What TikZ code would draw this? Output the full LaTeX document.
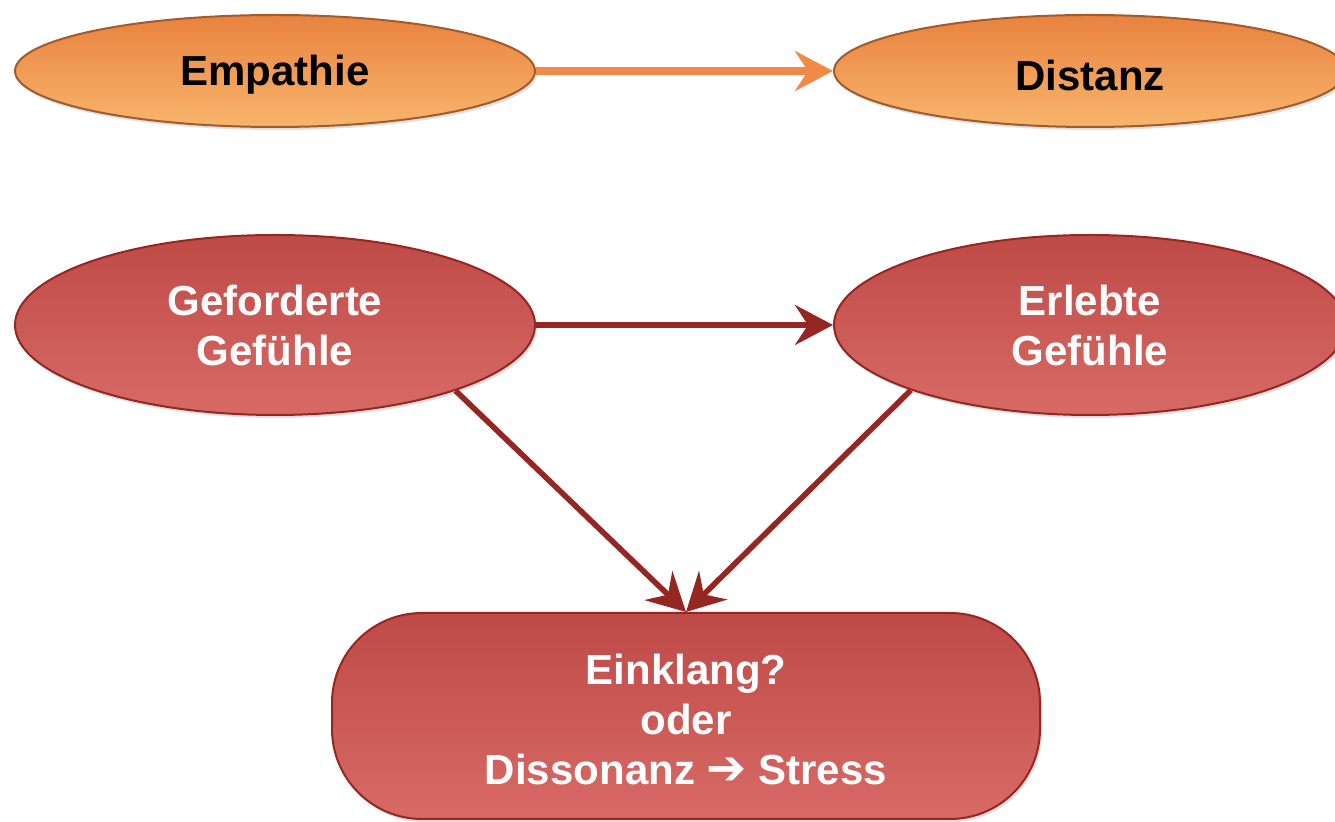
\documentclass[tikz,border=0pt]{standalone}
\usepackage{fontspec}
\setmainfont{Liberation Sans}
\newfontfamily\symfont{DejaVu Sans}
\usepackage{xcolor}
\usepackage{tikz}
\usetikzlibrary{positioning, arrows.meta, shapes.geometric, shadows}

\definecolor{orangefill}{HTML}{F39A55}
\definecolor{orangetop}{HTML}{E8823F}
\definecolor{orangebot}{HTML}{F8B56C}
\definecolor{orangeline}{HTML}{F08A46}
\definecolor{redfill}{HTML}{CD5957}
\definecolor{redtop}{HTML}{BE4A47}
\definecolor{redbot}{HTML}{D86A66}
\definecolor{redline}{HTML}{962621}

\newcommand{\lowered}[2]{\raisebox{-#1}[\height][\depth]{#2}}

\begin{document}
\begin{tikzpicture}[
  x=0.5pt, y=-0.5pt,
  oval/.style={ellipse, minimum width=260pt, inner sep=0pt, align=center, font=\bfseries\fontsize{21}{25}\selectfont,
    drop shadow={opacity=0.25, shadow xshift=1pt, shadow yshift=-1.5pt}},
  orangeoval/.style={oval, minimum height=56pt, draw=orangetop!70!black, line width=1pt,
    top color=orangetop, middle color=orangefill, bottom color=orangebot, text=black},
  redoval/.style={oval, minimum height=90pt, draw=redline, line width=1pt,
    top color=redtop, middle color=redfill, bottom color=redbot, text=white},
  pill/.style={rounded corners=45pt, draw=redline, line width=1pt, minimum width=354pt, minimum height=103pt,
    top color=redtop, middle color=redfill, bottom color=redbot, text=white, align=center,
    font=\bfseries\fontsize{21}{25}\selectfont,
    drop shadow={opacity=0.25, shadow xshift=1pt, shadow yshift=-1.5pt}},
  tip/.style={-{Stealth[length=19pt, width=20pt, inset=6.5pt]}},
  orangearrow/.style={tip, draw=orangeline, line width=4pt},
  redarrow/.style={tip, draw=redline, line width=2.8pt}
]
  \useasboundingbox (0,0) rectangle (1335,822);

  % top row
  \node[orangeoval] (emp) at (275,71) {\lowered{2pt}{Empathie}};
  \node[orangeoval, minimum width=256pt] (dist) at (1090,71) {\lowered{2pt}{Distanz}};

  % middle row
  \node[redoval] (gef) at (275,325) {Geforderte\\Gefühle};
  \node[redoval, minimum width=256pt] (erl) at (1090,325) {Erlebte\\Gefühle};

  % bottom
  \node[pill] (stress) at (686,716) {\lowered{4.5pt}{\begin{tabular}{@{}c@{}}Einklang?\\oder\\Dissonanz {\symfont\fontsize{24}{25}\selectfont ➔} Stress\end{tabular}}};

  \draw[orangearrow] (emp) -- (dist);
  \draw[redarrow] (gef) -- (erl);
  \draw[redarrow] (gef.-20) -- (stress.north);
  \draw[redarrow] (erl.-160) -- (stress.north);
\end{tikzpicture}
\end{document}
